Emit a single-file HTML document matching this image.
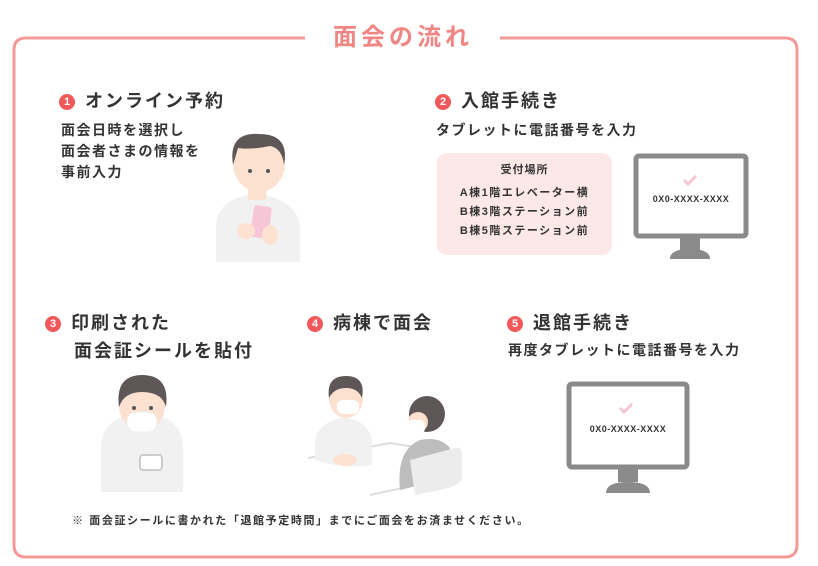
<!DOCTYPE html>
<html><head><meta charset="utf-8"><style>
*{margin:0;padding:0;box-sizing:border-box}
body{width:818px;height:566px;background:#fff;position:relative;overflow:hidden;font-family:"Liberation Sans","Noto Sans CJK JP",sans-serif;color:#333}
.a{position:absolute;white-space:nowrap}
.h{font-size:18px;font-weight:bold;letter-spacing:2px}
.n{display:inline-block;width:16px;height:16px;border-radius:50%;background:#f0585a;color:#fff;font-size:11px;text-align:center;line-height:16px;vertical-align:2px;margin-right:10px;letter-spacing:0}
.t{font-size:14px;font-weight:bold;line-height:21px;letter-spacing:1.5px}
</style></head><body>
<svg class="a" style="left:0;top:0" width="818" height="566">
<path d="M305 38 H26 Q14 38 14 50 V545 Q14 557 26 557 H785 Q797 557 797 545 V50 Q797 38 785 38 H500" fill="none" stroke="#f39a98" stroke-width="3"/>
<path d="M216 262 V225 Q218 198 255 194 Q295 198 300 225 V262Z" fill="#f1f1f1"/>
<rect x="248" y="180" width="18" height="20" fill="#fde1d0"/>
<ellipse cx="259" cy="163" rx="26" ry="29" fill="#fde1d0"/>
<path d="M233 165 Q228 132 259 134 Q290 134 284 165 Q282 148 270 146 Q250 150 238 148 Q236 155 233 165Z" fill="#5f5657"/>
<circle cx="250" cy="171" r="2" fill="#555"/><circle cx="268" cy="171" r="2" fill="#555"/>
<rect x="252" y="206" width="18" height="32" rx="3" fill="#f7c6d6" transform="rotate(8 261 222)"/>
<ellipse cx="246" cy="231" rx="9" ry="8" fill="#fde1d0"/><ellipse cx="270" cy="235" rx="8" ry="10" fill="#fde1d0"/>
<path d="M101 492 V445 Q104 415 142 413 Q180 415 183 445 V492Z" fill="#f1f1f1"/>
<rect x="140" y="455" width="22" height="15" rx="3" fill="#fff" stroke="#ccc" stroke-width="2"/>
<rect x="133" y="400" width="18" height="16" fill="#fde1d0"/>
<ellipse cx="142" cy="405" rx="23" ry="27" fill="#fde1d0"/>
<path d="M119 407 Q115 375 142 375 Q170 375 166 407 Q162 392 142 392 Q124 392 119 407Z" fill="#5f5657"/>
<circle cx="134" cy="408" r="2" fill="#555"/><circle cx="151" cy="408" r="2" fill="#555"/>
<rect x="127" y="412" width="30" height="20" rx="9" fill="#fff" stroke="#eee"/>
<path d="M308 458 L390 443 L440 451" stroke="#ddd" stroke-width="2" fill="none"/>
<path d="M370 495 L430 482" stroke="#ddd" stroke-width="2"/>
<path d="M315 460 V440 Q320 420 345 418 Q368 420 372 440 V465 Q345 470 315 460Z" fill="#f1f1f1"/>
<ellipse cx="345" cy="460" rx="12" ry="6" fill="#fde1d0"/>
<ellipse cx="346" cy="399" rx="17" ry="19" fill="#fde1d0"/>
<path d="M329 398 Q326 376 346 376 Q366 376 362 398 Q358 388 346 388 Q334 388 329 398Z" fill="#5f5657"/>
<rect x="337" y="400" width="22" height="14" rx="6" fill="#fff"/>
<path d="M400 490 Q396 450 420 440 Q440 436 450 448 L440 480 Z" fill="#bdbdbd"/>
<path d="M410 460 L455 448 Q462 446 462 455 V478 Q460 486 440 490 L415 495Z" fill="#ececec"/>
<circle cx="427" cy="414" r="18" fill="#5f5657"/>
<ellipse cx="418" cy="422" rx="10" ry="10" fill="#fde1d0"/>
<rect x="405" y="420" width="20" height="14" rx="6" fill="#fff"/>
<rect x="636" y="156" width="110" height="80" rx="3" fill="#fff" stroke="#8a8a8a" stroke-width="5"/>
<rect x="680" y="238" width="20" height="12" fill="#8a8a8a"/>
<path d="M670 259 Q670 249 690 249 Q710 249 710 259Z" fill="#8a8a8a"/>
<path d="M684 180 l4 4 l8 -8" stroke="#f6c6d2" stroke-width="3" fill="none"/>
<rect x="569" y="384" width="118" height="83" rx="3" fill="#fff" stroke="#8a8a8a" stroke-width="5"/>
<rect x="618" y="469" width="20" height="13" fill="#8a8a8a"/>
<path d="M606 493 Q606 482 628 482 Q650 482 650 493Z" fill="#8a8a8a"/>
<path d="M620 408 l4 4 l8 -8" stroke="#f6c6d2" stroke-width="3" fill="none"/>
</svg>
<div class="a" style="left:333px;top:17px;font-size:24px;font-weight:bold;color:#f08684;letter-spacing:4px">面会の流れ</div>
<div class="a h" style="left:59px;top:87px"><span class="n">1</span>オンライン予約</div>
<div class="a t" style="left:61px;top:120px">面会日時を選択し<br>面会者さまの情報を<br>事前入力</div>
<div class="a h" style="left:435px;top:87px"><span class="n">2</span>入館手続き</div>
<div class="a t" style="left:436px;top:120px">タブレットに電話番号を入力</div>
<div class="a" style="left:437px;top:153px;width:175px;height:102px;background:#fde8e8;border-radius:10px;text-align:center;font-size:11px;font-weight:bold;line-height:19px;padding-top:8px;letter-spacing:1px">受付場所<div style="line-height:19px;margin-top:4px;letter-spacing:1.5px">A棟1階エレベーター横<br>B棟3階ステーション前<br>B棟5階ステーション前</div></div>
<div class="a" style="left:638px;top:194px;width:106px;text-align:center;font-size:9px;font-weight:bold;letter-spacing:.5px">0X0-XXXX-XXXX</div>
<div class="a h" style="left:45px;top:309px;line-height:28px"><span class="n">3</span>印刷された<br><span style="padding-left:29px">面会証シールを貼付</span></div>
<div class="a h" style="left:307px;top:309px"><span class="n">4</span>病棟で面会</div>
<div class="a h" style="left:507px;top:309px"><span class="n">5</span>退館手続き</div>
<div class="a t" style="left:508px;top:340px">再度タブレットに電話番号を入力</div>
<div class="a" style="left:573px;top:424px;width:110px;text-align:center;font-size:9px;font-weight:bold;letter-spacing:.5px">0X0-XXXX-XXXX</div>
<div class="a" style="left:72px;top:512px;font-size:11px;font-weight:bold;letter-spacing:1.6px">※ 面会証シールに書かれた「退館予定時間」までにご面会をお済ませください。</div>
</body></html>
